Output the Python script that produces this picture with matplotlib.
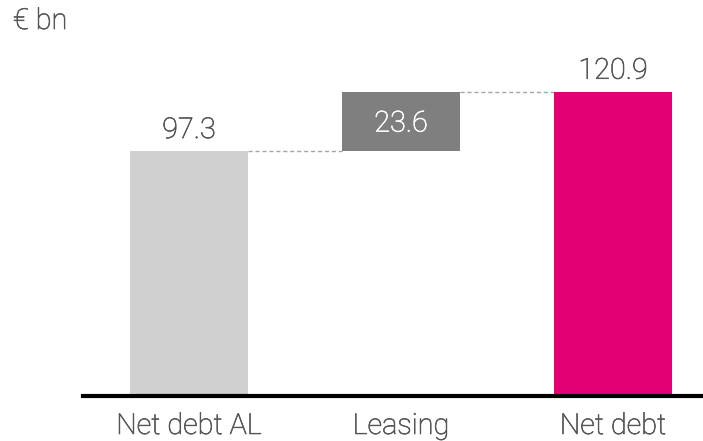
import matplotlib
matplotlib.use("Agg")
import matplotlib.pyplot as plt
import matplotlib.patheffects as pe

categories = ["Net debt AL", "Leasing", "Net debt"]
values = [97.3, 23.6, 120.9]
unit_label = "€ bn"

colors = ["#D0D0D0", "#7F7F7F", "#E20074"]
text_color = "#555555"
font = ["Roboto", "DejaVu Sans"]
fsize = 20.8
weight = "light"


def thicken(color):
    # light face with a hairline outline gives a book-like weight
    return [pe.withStroke(linewidth=0.45, foreground=color)]


fig = plt.figure(figsize=(7.03, 4.41), dpi=100)
ax = fig.add_axes([83 / 703, 1 - 396 / 441, 1 - 83 / 703, 396 / 441])

# waterfall: first bar from zero, step floats on top, total from zero
bottoms = [0, values[0], 0]
heights = [values[0], values[1], values[2]]
width = 0.557
xs = list(range(len(categories)))
ax.bar(xs, heights, bottom=bottoms, width=width, color=colors, zorder=2)

# dashed connectors between bars
tops = [b + h for b, h in zip(bottoms, heights)]
for i in range(len(xs) - 1):
    ax.plot([xs[i] + width / 2, xs[i + 1] - width / 2], [tops[i], tops[i]],
            ls=(0, (3, 2)), color="#A6A6A6", lw=1.0, zorder=1)

label_kw = dict(ha="center", va="baseline", fontsize=fsize,
                family=font, fontweight=weight)
ax.text(xs[0], tops[0] + 5.2, f"{values[0]:.1f}", color=text_color,
        path_effects=thicken(text_color), **label_kw)
ax.text(xs[1], bottoms[1] + heights[1] / 2 - 4, f"{values[1]:.1f}",
        color="white", path_effects=thicken("white"), **label_kw)
ax.text(xs[2], tops[2] + 5.2, f"{values[2]:.1f}", color=text_color,
        path_effects=thicken(text_color), **label_kw)

ax.set_xlim(-0.5, (703 - 189) / 212)
ax.set_ylim(0, 396 / 2.516)
ax.set_xticks(xs)
ax.set_xticklabels(categories, fontsize=fsize, color=text_color, family=font,
                   fontweight=weight)
for lbl in ax.get_xticklabels():
    lbl.set_path_effects(thicken(text_color))
ax.tick_params(axis="x", length=0, pad=11.5)
ax.set_yticks([])
for side in ["top", "right", "left"]:
    ax.spines[side].set_visible(False)
ax.spines["bottom"].set_linewidth(3.0)
ax.spines["bottom"].set_color("black")
ax.spines["bottom"].set_zorder(3)

fig.text(13 / 703, 1 - 29 / 441, unit_label, ha="left", va="baseline",
         fontsize=fsize, color=text_color, family=font, fontweight=weight,
         path_effects=thicken(text_color))

fig.savefig("out.png", dpi=100)
